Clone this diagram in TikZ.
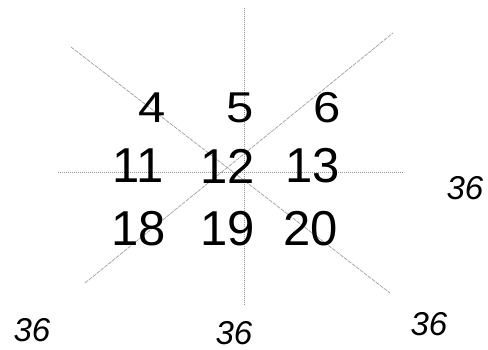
\documentclass[tikz,border=0pt]{standalone}
\usepackage{fontspec}
\setmainfont{Liberation Sans}
\begin{document}
\begin{tikzpicture}[x=1pt,y=-1pt,
  num/.style={inner sep=0pt,font=\fontsize{49}{49}\selectfont},
  lbl/.style={inner sep=0pt,font=\fontsize{33}{33}\selectfont\itshape},
  axisline/.style={gray!85,line width=0.7pt,dash pattern=on 1pt off 1pt},
  diagline/.style={gray!75,line width=0.7pt,dash pattern=on 4pt off 1pt}]
\useasboundingbox (0,0) rectangle (488,350);
% line ends
\coordinate (vt) at (244,8);
\coordinate (vb) at (244,305);
\coordinate (hl) at (58,172);
\coordinate (hr) at (403,172);
\coordinate (d1a) at (71,47);
\coordinate (d1b) at (390,293);
\coordinate (d2a) at (85,283);
\coordinate (d2b) at (393,33);
\draw[axisline] (vt) -- (vb);
\draw[axisline] (hl) -- (hr);
\draw[diagline] (d1a) -- (d1b);
\draw[diagline] (d2a) -- (d2b);
% numbers
\node[num] (n4)  at (152,108) {\scalebox{1}[0.88]{4}};
\node[num] (n5)  at (240,108) {\scalebox{1}[0.88]{5}};
\node[num] (n6)  at (327,108) {\scalebox{1}[0.88]{6}};
\node[num] (n11) at (138,166) {11};
\node[num] (n12) at (228,166) {12};
\node[num] (n13) at (313,166) {13};
\node[num] (n18) at (139,229) {18};
\node[num] (n19) at (228,229) {19};
\node[num] (n20) at (311,229) {20};
% labels
\node[lbl] (l1) at (465,188) {36};
\node[lbl] (l2) at (32,330) {36};
\node[lbl] (l3) at (234,333) {36};
\node[lbl] (l4) at (429,324) {36};
\end{tikzpicture}
\end{document}
